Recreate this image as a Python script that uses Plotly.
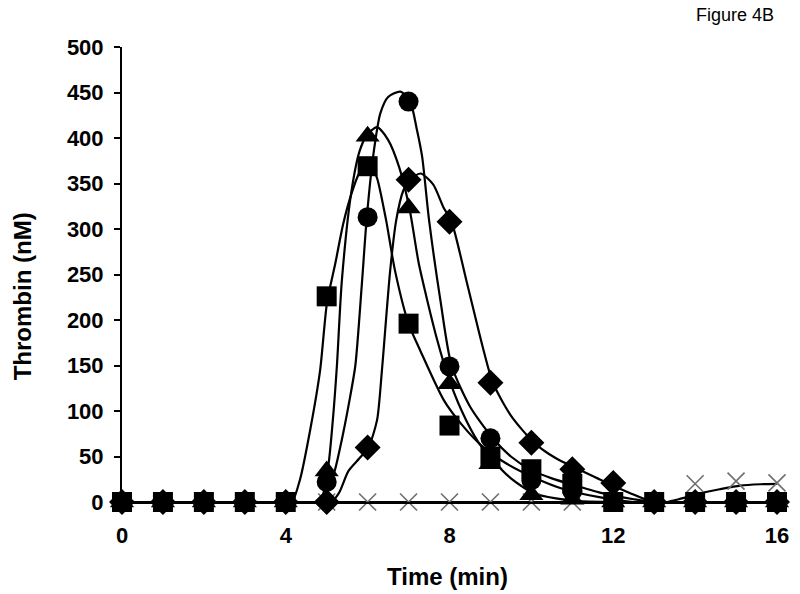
import plotly.graph_objects as go

# ---- measured data (time in min, thrombin in nM) ----
time = list(range(0, 17))
square_vals = [0, 0, 0, 0, 0, 226, 369, 196, 84, 50, 36, 20, 0, 0, 0, 0, 0]
triangle_vals = [0, 0, 0, 0, 0, 34, 402, 323, 130, 42, 8, 3, 0, 0, 0, 0, 0]
circle_vals = [0, 0, 0, 0, 0, 22, 313, 440, 149, 70, 24, 12, 0, 0, 0, 0, 0]
diamond_vals = [0, 0, 0, 0, 0, 0, 60, 354, 308, 131, 65, 36, 21, 0, 0, 0, 0]
cross_vals = [0, 0, 0, 0, 0, 0, 0, 0, 0, 0, 0, 0, 0, 0, 20, 23, 21]

# ---- fitted curves ----
square_fit_t = [0, 4, 4.15, 4.35, 4.6, 4.84, 5.01, 5.21, 5.4, 5.6, 5.8, 5.98, 6.1, 6.23,
                6.45, 6.67, 7.0, 7.29, 7.86, 8.3, 8.83, 9.4, 10.06, 10.8, 11.69, 12.5, 13, 16]
square_fit_v = [0, 0, 0, 25, 80, 145, 220, 262, 305, 338, 362, 371, 368, 356,
                310, 254, 196, 166, 112, 85, 60, 42, 27, 14, 5, 0, 0, 0]

triangle_fit_t = [0, 4.8, 5.02, 5.15, 5.25, 5.37, 5.6, 5.8, 5.98, 6.23, 6.5, 6.77, 7.02,
                  7.25, 7.46, 7.7, 7.95, 8.3, 8.7, 9.0, 9.5, 10.04, 10.6, 11.2, 12, 16]
triangle_fit_v = [0, 0, 34, 90, 150, 243, 340, 385, 403, 412, 398, 368, 323,
                  262, 221, 178, 140, 100, 66, 49, 26, 10, 4, 1, 0, 0]

circle_fit_t = [0, 4.85, 5.0, 5.2, 5.4, 5.55, 5.7, 5.86, 5.98, 6.15, 6.31, 6.5, 6.8, 7.04,
                7.2, 7.33, 7.5, 7.78, 8.05, 8.5, 9.06, 9.5, 10.0, 10.5, 11.0, 11.7, 12.5, 13, 16]
circle_fit_v = [0, 0, 10, 35, 75, 110, 150, 240, 313, 385, 427, 445, 451, 440,
                410, 380, 310, 221, 150, 105, 70, 50, 35, 26, 19, 10, 3, 0, 0]

diamond_fit_t = [0, 5.1, 5.3, 5.53, 5.8, 6.02, 6.23, 6.35, 6.55, 6.7, 6.87, 7.03, 7.29,
                 7.6, 7.85, 8.05, 8.43, 8.83, 9.06, 9.5, 10.07, 10.6, 11.1, 11.8, 12.4, 13, 16]
diamond_fit_v = [0, 0, 10, 34, 48, 60, 90, 145, 254, 310, 342, 354, 361,
                 349, 324, 308, 240, 167, 131, 95, 65, 48, 37, 22, 10, 0, 0]

cross_fit_t = [0, 13, 13.3, 13.6, 14.06, 14.6, 15.1, 15.6, 16]
cross_fit_v = [0, 0, 0, 3, 9, 14, 18, 19.5, 20]

x_ticks = [0, 4, 8, 12, 16]
y_ticks = list(range(0, 501, 50))

fig = go.Figure()

line_style = dict(color="black", width=2.2, shape="spline", smoothing=0.7)
for ft, fv in [(cross_fit_t, cross_fit_v), (diamond_fit_t, diamond_fit_v),
               (circle_fit_t, circle_fit_v), (triangle_fit_t, triangle_fit_v),
               (square_fit_t, square_fit_v)]:
    fig.add_trace(go.Scatter(x=ft, y=fv, mode="lines", line=line_style,
                             cliponaxis=False, hoverinfo="skip", showlegend=False))

fig.add_trace(go.Scatter(x=time, y=cross_vals, mode="markers", cliponaxis=False,
                         marker=dict(symbol="x-thin", size=17,
                                     line=dict(color="#6e6e6e", width=1.6)),
                         showlegend=False))
fig.add_trace(go.Scatter(x=time, y=diamond_vals, mode="markers", cliponaxis=False,
                         marker=dict(symbol="diamond", size=20, color="black"),
                         showlegend=False))
fig.add_trace(go.Scatter(x=time, y=triangle_vals, mode="markers", cliponaxis=False,
                         marker=dict(symbol="triangle-up", size=21, color="black"),
                         showlegend=False))
fig.add_trace(go.Scatter(x=time, y=circle_vals, mode="markers", cliponaxis=False,
                         marker=dict(symbol="circle", size=20, color="black"),
                         showlegend=False))
fig.add_trace(go.Scatter(x=time, y=square_vals, mode="markers", cliponaxis=False,
                         marker=dict(symbol="square", size=20, color="black"),
                         showlegend=False))

font_bold = "Liberation Sans"

fig.update_layout(
    width=800, height=594,
    margin=dict(l=122, r=23, t=47, b=92),
    paper_bgcolor="white", plot_bgcolor="white",
    font=dict(family=font_bold, color="black"),
    xaxis=dict(range=[0, 16], tickvals=x_ticks, ticktext=[f"<b>{v}</b>" for v in x_ticks],
               showgrid=False, zeroline=False, showline=True, linecolor="black",
               linewidth=2, ticks="", ticklabelstandoff=13,
               tickfont=dict(size=22, family=font_bold)),
    yaxis=dict(range=[0, 500], tickvals=y_ticks, ticktext=[f"<b>{v}</b>" for v in y_ticks],
               showgrid=False, zeroline=False, showline=True, linecolor="black",
               linewidth=2, ticks="outside", ticklen=6, tickwidth=2, tickcolor="black",
               ticklabelstandoff=6, tickfont=dict(size=22, family=font_bold)),
    annotations=[
        dict(text="<b>Time (min)</b>", xref="paper", yref="paper", x=0.497, y=-0.163,
             showarrow=False, font=dict(size=24, family=font_bold), xanchor="center",
             yanchor="middle"),
        dict(text="<b>Thrombin (nM)</b>", xref="paper", yref="paper", x=-0.1527, y=0.452,
             showarrow=False, textangle=-90, font=dict(size=24, family=font_bold),
             xanchor="center", yanchor="middle"),
        dict(text="Figure 4B", xref="paper", yref="paper", x=0.9985, y=1.0697,
             showarrow=False, font=dict(size=18, family="Liberation Sans"),
             xanchor="right", yanchor="middle"),
    ],
)

fig.write_html("out.html", config={"displayModeBar": False},
               post_script="document.body.style.margin='0';document.body.style.padding='0';")
